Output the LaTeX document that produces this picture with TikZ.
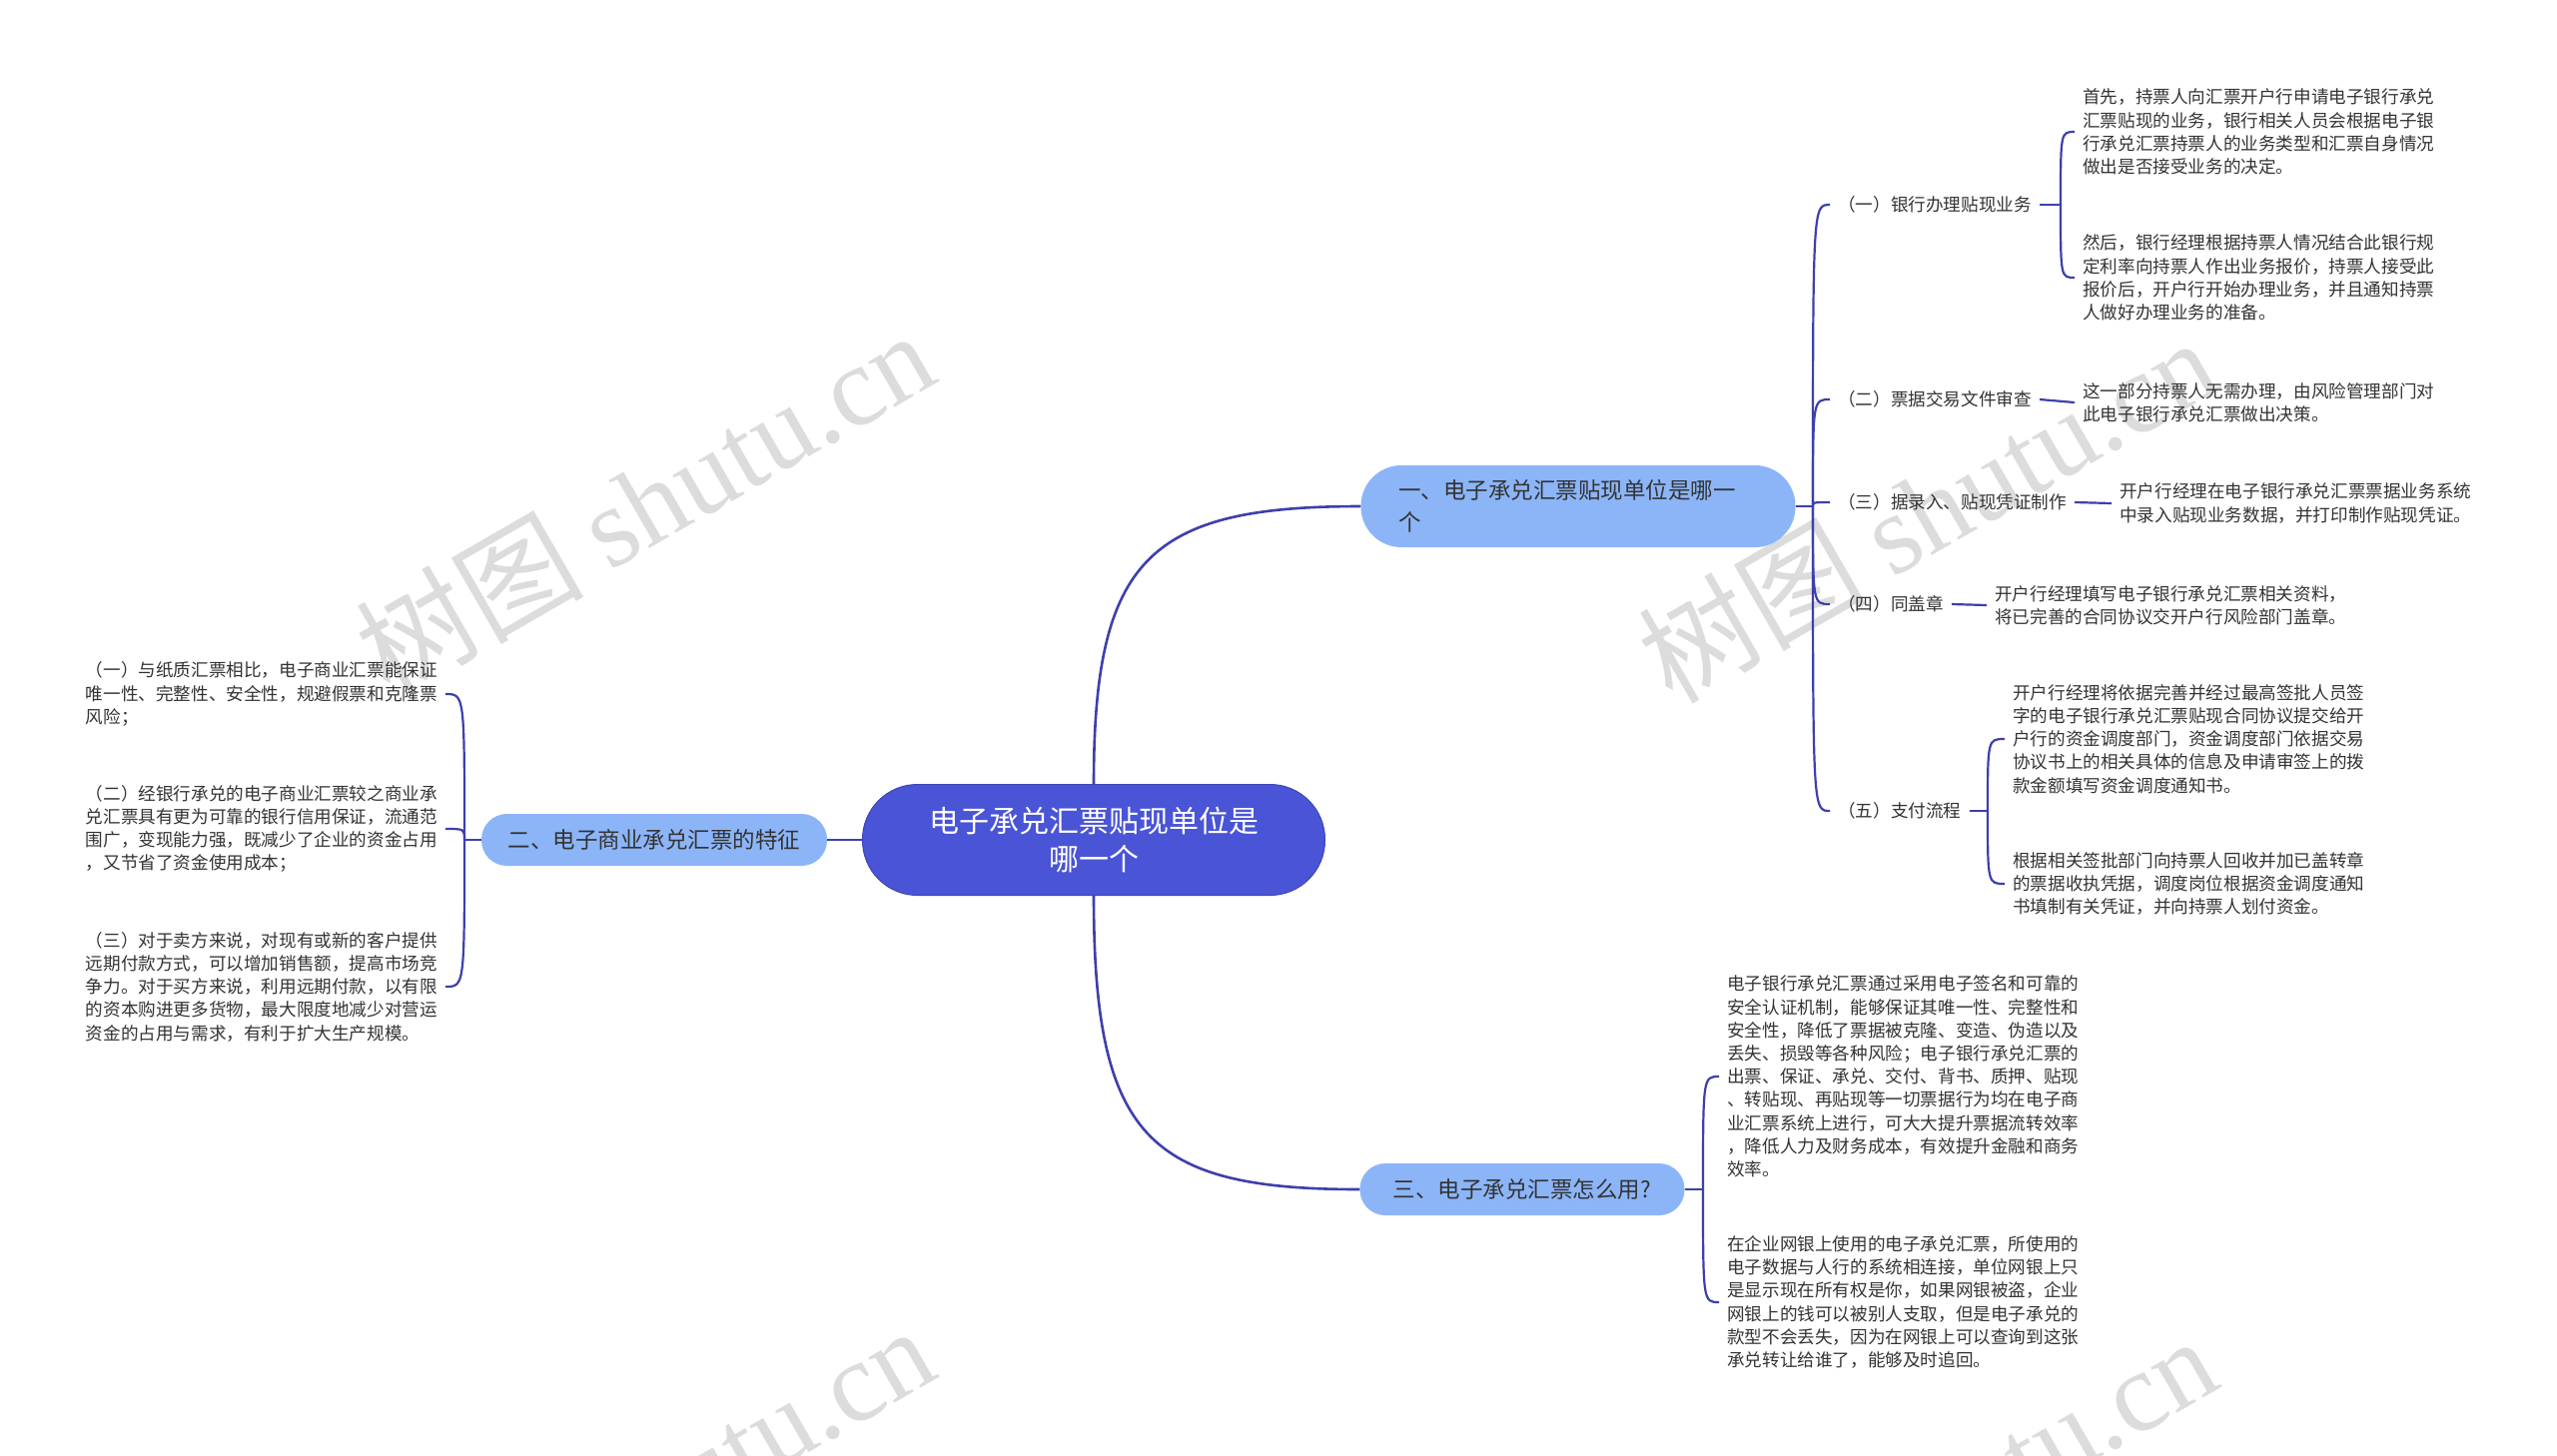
\documentclass[tikz,border=0pt]{standalone}
\usepackage{fontspec}
\setmainfont{Noto Sans CJK SC}
\newfontfamily\wmlatin{Liberation Serif}
\usetikzlibrary{positioning, calc}
\definecolor{rootblue}{RGB}{74,84,214}
\definecolor{topicblue}{RGB}{140,181,248}
\definecolor{linkblue}{RGB}{60,64,172}
\definecolor{txtgray}{RGB}{51,51,51}
\definecolor{wmgray}{RGB}{220,220,220}
\tikzset{
    rootstyle/.style={rectangle, rounded corners=55pt, fill=rootblue, draw=rootblue!85!black, line width=1pt, minimum width=463pt, minimum height=111pt, align=center, text=white, font=\fontsize{30}{38}\selectfont, inner sep=0pt},
    topicstyle/.style={rectangle, rounded corners=25.5pt, fill=topicblue, minimum height=52pt, align=center, text=txtgray, font=\fontsize{22.5}{32}\selectfont, inner sep=0pt},
    labelstyle/.style={anchor=west, font=\fontsize{17.6}{23.2}\selectfont, text=txtgray, inner xsep=8pt, inner ysep=2pt},
    leafstyle/.style={labelstyle, align=left},
    leafleft/.style={leafstyle, anchor=east},
    link/.style={draw=linkblue, line width=2.6pt},
    sublink/.style={draw=linkblue, line width=2.2pt},
    wmark/.style={text=wmgray, rotate=30, font=\fontsize{114}{114}\selectfont, inner sep=0pt}
}
\begin{document}
\begin{tikzpicture}[x=1pt, y=-1pt]
    \useasboundingbox (0,0) rectangle (2560,1457);
    \fill[white] (0,0) rectangle (2560,1457);
    % watermarks
    \node[wmark] (wm1) at (645,503) {树图 {\wmlatin shutu.cn}};
    \node[wmark] (wm2) at (1929,510) {树图 {\wmlatin shutu.cn}};
    \node[wmark] (wm3) at (645,1500) {树图 {\wmlatin shutu.cn}};
    \node[wmark] (wm4) at (1929,1510) {树图 {\wmlatin shutu.cn}};
    % root and main topics
    \node[rootstyle] (root) at (1095,841) {电子承兑汇票贴现单位是\\哪一个};
    \node[topicstyle, minimum width=435pt, minimum height=82pt, rounded corners=40.5pt, align=left, inner xsep=37.5pt, text width=360pt] (b1) at (1580,507) {一、电子承兑汇票贴现单位是哪一\\个};
    \node[topicstyle, minimum width=346pt] (b2) at (655,841) {二、电子商业承兑汇票的特征};
    \node[topicstyle, minimum width=325pt] (b3) at (1524,1191) {三、电子承兑汇票怎么用?};
    \draw[link] (root.north) .. controls +(0,-226) and +(-212,0) .. (b1.west);
    \draw[link] (root.west) -- (b2.east);
    \draw[link] (root.south) .. controls +(0,242) and +(-212,0) .. (b3.west);
    % branch 1
    \coordinate (j1) at (1815,507);
    \node[labelstyle] (s1) at (1832,205) {（一）银行办理贴现业务};
    \node[labelstyle] (s2) at (1832,400) {（二）票据交易文件审查};
    \node[labelstyle] (s3) at (1832,503) {（三）据录入、贴现凭证制作};
    \node[labelstyle] (s4) at (1832,605) {（四）同盖章};
    \node[labelstyle] (s5) at (1832,812) {（五）支付流程};
    \draw[sublink] (b1.east) -- (j1);
    \foreach \s in {s1,s2,s3,s4,s5}
        \draw[sublink] (j1) .. controls (j1 |- \s.west) and (j1 |- \s.west) .. (\s.west);
    \coordinate (j11) at (2063,205);
    \node[leafstyle] (s1a) at (2077,132) {首先，持票人向汇票开户行申请电子银行承兑\\汇票贴现的业务，银行相关人员会根据电子银\\行承兑汇票持票人的业务类型和汇票自身情况\\做出是否接受业务的决定。};
    \node[leafstyle] (s1b) at (2077,278) {然后，银行经理根据持票人情况结合此银行规\\定利率向持票人作出业务报价，持票人接受此\\报价后，开户行开始办理业务，并且通知持票\\人做好办理业务的准备。};
    \draw[sublink] (s1.east) -- (j11);
    \draw[sublink] (j11) .. controls (j11 |- s1a.west) and (j11 |- s1a.west) .. (s1a.west);
    \draw[sublink] (j11) .. controls (j11 |- s1b.west) and (j11 |- s1b.west) .. (s1b.west);
    \node[leafstyle] (s2a) at (2077,403) {这一部分持票人无需办理，由风险管理部门对\\此电子银行承兑汇票做出决策。};
    \node[leafstyle] (s3a) at (2114,504) {开户行经理在电子银行承兑汇票票据业务系统\\中录入贴现业务数据，并打印制作贴现凭证。};
    \node[leafstyle] (s4a) at (1989,606) {开户行经理填写电子银行承兑汇票相关资料，\\将已完善的合同协议交开户行风险部门盖章。};
    \draw[sublink] (s2.east) -- (s2a.west);
    \draw[sublink] (s3.east) -- (s3a.west);
    \draw[sublink] (s4.east) -- (s4a.west);
    \coordinate (j15) at (1990,812);
    \node[leafstyle] (s5a) at (2007,740) {开户行经理将依据完善并经过最高签批人员签\\字的电子银行承兑汇票贴现合同协议提交给开\\户行的资金调度部门，资金调度部门依据交易\\协议书上的相关具体的信息及申请审签上的拨\\款金额填写资金调度通知书。};
    \node[leafstyle] (s5b) at (2007,885) {根据相关签批部门向持票人回收并加已盖转章\\的票据收执凭据，调度岗位根据资金调度通知\\书填制有关凭证，并向持票人划付资金。};
    \draw[sublink] (s5.east) -- (j15);
    \draw[sublink] (j15) .. controls (j15 |- s5a.west) and (j15 |- s5a.west) .. (s5a.west);
    \draw[sublink] (j15) .. controls (j15 |- s5b.west) and (j15 |- s5b.west) .. (s5b.west);
    % branch 2
    \coordinate (j2) at (465,841);
    \node[leafleft] (t1) at (446,695) {（一）与纸质汇票相比，电子商业汇票能保证\\唯一性、完整性、安全性，规避假票和克隆票\\风险；};
    \node[leafleft] (t2) at (446,830) {（二）经银行承兑的电子商业汇票较之商业承\\兑汇票具有更为可靠的银行信用保证，流通范\\围广，变现能力强，既减少了企业的资金占用\\，又节省了资金使用成本；};
    \node[leafleft] (t3) at (446,988) {（三）对于卖方来说，对现有或新的客户提供\\远期付款方式，可以增加销售额，提高市场竞\\争力。对于买方来说，利用远期付款，以有限\\的资本购进更多货物，最大限度地减少对营运\\资金的占用与需求，有利于扩大生产规模。};
    \draw[sublink] (b2.west) -- (j2);
    \foreach \t in {t1,t2,t3}
        \draw[sublink] (j2) .. controls (j2 |- \t.east) and (j2 |- \t.east) .. (\t.east);
    % branch 3
    \coordinate (j3) at (1705,1191);
    \node[leafstyle] (u1) at (1721,1078) {电子银行承兑汇票通过采用电子签名和可靠的\\安全认证机制，能够保证其唯一性、完整性和\\安全性，降低了票据被克隆、变造、伪造以及\\丢失、损毁等各种风险；电子银行承兑汇票的\\出票、保证、承兑、交付、背书、质押、贴现\\、转贴现、再贴现等一切票据行为均在电子商\\业汇票系统上进行，可大大提升票据流转效率\\，降低人力及财务成本，有效提升金融和商务\\效率。};
    \node[leafstyle] (u2) at (1721,1304) {在企业网银上使用的电子承兑汇票，所使用的\\电子数据与人行的系统相连接，单位网银上只\\是显示现在所有权是你，如果网银被盗，企业\\网银上的钱可以被别人支取，但是电子承兑的\\款型不会丢失，因为在网银上可以查询到这张\\承兑转让给谁了，能够及时追回。};
    \draw[sublink] (b3.east) -- (j3);
    \draw[sublink] (j3) .. controls (j3 |- u1.west) and (j3 |- u1.west) .. (u1.west);
    \draw[sublink] (j3) .. controls (j3 |- u2.west) and (j3 |- u2.west) .. (u2.west);
\end{tikzpicture}
\end{document}
